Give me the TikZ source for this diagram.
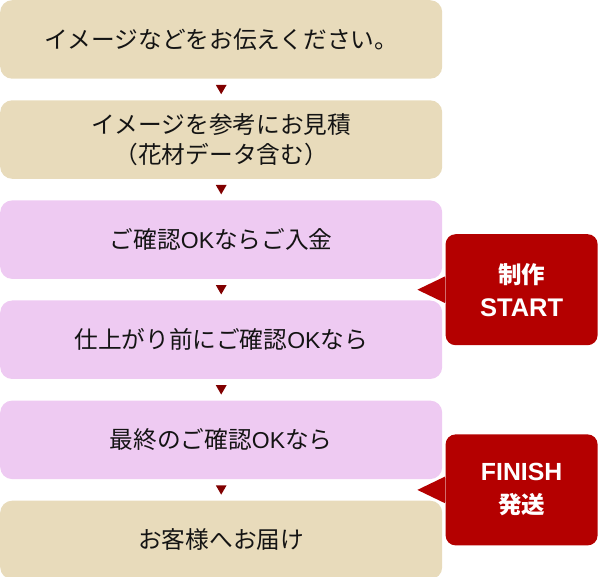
\documentclass[tikz,border=0pt]{standalone}
\usepackage{fontspec}
\setmainfont{Noto Sans CJK JP}
\newfontfamily\lat{Liberation Sans}
\usepackage{xcolor}
\usetikzlibrary{positioning, shapes.geometric, calc}
\definecolor{boxbeige}{RGB}{232,219,187}
\definecolor{boxpink}{RGB}{238,202,242}
\definecolor{calloutred}{RGB}{180,0,0}
\definecolor{markred}{RGB}{128,0,0}
\newcommand{\OKtxt}{{\lat\fontsize{23}{30}\selectfont OK}}

\begin{document}
\begin{tikzpicture}[
  x=1pt, y=1pt,
  stepbox/.style={rounded corners=12pt, minimum width=442pt, minimum height=78.5pt, inner sep=0pt,
    align=center, text=black!92, font=\fontsize{23.7}{30}\selectfont},
  beigebox/.style={stepbox, fill=boxbeige},
  pinkbox/.style={stepbox, fill=boxpink},
  downtri/.style={regular polygon, regular polygon sides=3, shape border rotate=180, fill=markred,
    inner sep=0pt, minimum size=12.5pt, yshift=1.5pt},
  callout/.style={fill=calloutred, rounded corners=10pt, minimum width=152pt, minimum height=111pt,
    inner sep=0pt, align=center, text=white, font=\fontsize{23.5}{33}\selectfont\bfseries},
  pointer/.style={fill=calloutred}
]
\useasboundingbox (0,0) rectangle (600,-577);

% steps
\node[beigebox, anchor=north west] (s1) at (0,0) {イメージなどをお伝えください。};
\node[beigebox, below=21.2pt of s1] (s2) {イメージを参考にお見積\\（花材データ含む）};
\node[pinkbox, below=21.2pt of s2] (s3) {ご確認\OKtxt ならご入金};
\node[pinkbox, below=21.2pt of s3] (s4) {仕上がり前にご確認\OKtxt なら};
\node[pinkbox, below=21.2pt of s4] (s5) {最終のご確認\OKtxt なら};
\node[beigebox, below=21.2pt of s5] (s6) {お客様へお届け};

% markers between steps
\node[downtri] (t12) at ($(s1.south)!0.5!(s2.north)$) {};
\node[downtri] (t23) at ($(s2.south)!0.5!(s3.north)$) {};
\node[downtri] (t34) at ($(s3.south)!0.5!(s4.north)$) {};
\node[downtri] (t45) at ($(s4.south)!0.5!(s5.north)$) {};
\node[downtri] (t56) at ($(s5.south)!0.5!(s6.north)$) {};

% callouts
\coordinate (g34) at ($(s3.south east)!0.5!(s4.north east)$);
\coordinate (g56) at ($(s5.south east)!0.5!(s6.north east)$);
\node[callout, right=3pt of g34] (start) {制作\\{\lat\fontsize{25.5}{33}\selectfont START}};
\node[callout, right=3pt of g56] (finish) {{\lat\fontsize{24.8}{33}\selectfont FINISH}\\発送};
\coordinate (tipA) at ([xshift=-25pt]g34);
\coordinate (tipB) at ([xshift=-25pt]g56);

\draw[white, line width=2.5pt] ([yshift=13.5pt]start.west) -- (tipA) -- ([yshift=-13.5pt]start.west);
\fill[pointer] ([yshift=13.5pt]start.west) -- (tipA) -- ([yshift=-13.5pt]start.west) -- cycle;
\draw[white, line width=2.5pt] ([yshift=13.5pt]finish.west) -- (tipB) -- ([yshift=-13.5pt]finish.west);
\fill[pointer] ([yshift=13.5pt]finish.west) -- (tipB) -- ([yshift=-13.5pt]finish.west) -- cycle;
\end{tikzpicture}
\end{document}
